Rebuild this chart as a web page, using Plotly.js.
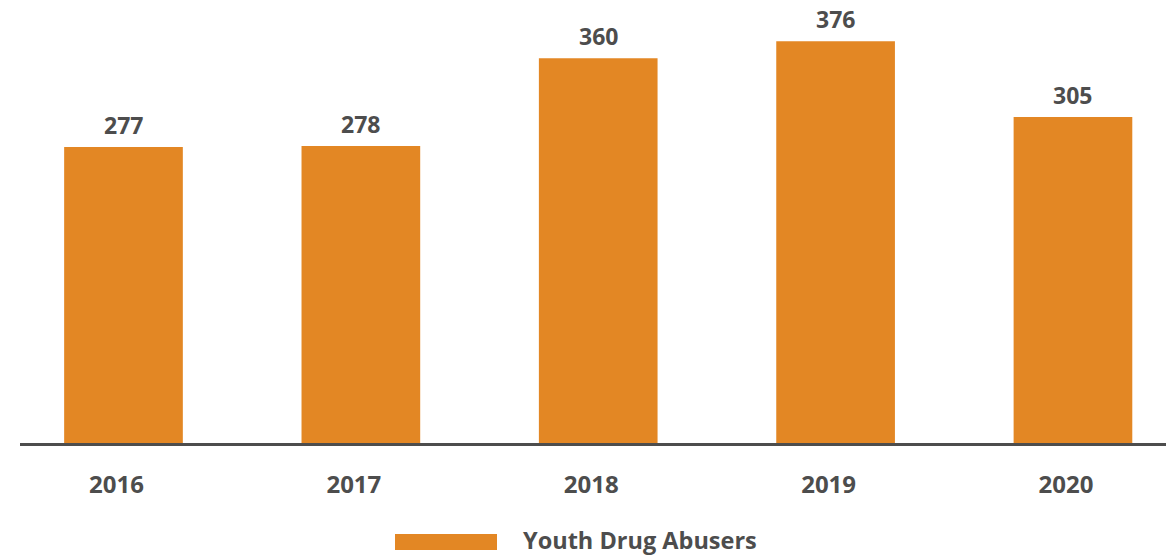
<!DOCTYPE html>
<html>
<head>
<meta charset="utf-8">
<script src="https://cdn.plot.ly/plotly-3.0.1.min.js"></script>
<style>html,body{margin:0;padding:0;background:#fff}#chart{width:1166px;height:556px}</style>
</head>
<body>
<div id="chart"></div>
<script>
const categories = ["2016", "2017", "2018", "2019", "2020"];
const values = [277, 278, 360, 376, 305];
const seriesName = "Youth Drug Abusers";

const barColor = "#E38724";
const textColor = "#4D4D4D";
const fontFam = "'Open Sans', 'Noto Sans', sans-serif";

const trace = {
  type: "bar",
  x: categories,
  y: values,
  name: seriesName,
  marker: {color: barColor},
  width: 0.5,
  hoverinfo: "x+y",
  showlegend: false,
  cliponaxis: false
};

const annotations = categories.map((c, i) => ({
  x: i, y: values[i], xref: "x", yref: "y",
  text: "<b>" + values[i] + "</b>",
  showarrow: false, yanchor: "bottom", yshift: 4,
  font: {family: fontFam, size: 23, color: textColor}
}));

annotations.push({
  xref: "paper", yref: "paper", x: (521 - 20) / 1146, y: -(540 - 443) / 443,
  xanchor: "left", yanchor: "middle",
  text: "<b>" + seriesName + "</b>", showarrow: false,
  font: {family: fontFam, size: 23.5, color: textColor}
});

const layout = {
  width: 1166, height: 556,
  margin: {l: 20, r: 0, t: 0, b: 113},
  paper_bgcolor: "#fff", plot_bgcolor: "#fff",
  xaxis: {
    type: "category",
    range: [-0.436, 4.392],
    showline: true, linecolor: textColor, linewidth: 3,
    ticks: "", showgrid: false, zeroline: false,
    ticklabelstandoff: 18,
    ticklabelshift: -7,
    tickfont: {family: fontFam, size: 24, color: textColor, weight: "bold"}
  },
  yaxis: {
    range: [0, 414.6],
    showticklabels: false, showline: false, ticks: "",
    showgrid: false, zeroline: false
  },
  annotations: annotations,
  shapes: [{
    type: "rect", xref: "paper", yref: "paper",
    x0: (395 - 20) / 1146, x1: (497 - 20) / 1146,
    y0: -(550 - 443) / 443, y1: -(534 - 443) / 443,
    fillcolor: barColor, line: {width: 0}
  }],
  showlegend: false
};

Plotly.newPlot("chart", [trace], layout, {displayModeBar: false, staticPlot: true});
</script>
</body>
</html>
